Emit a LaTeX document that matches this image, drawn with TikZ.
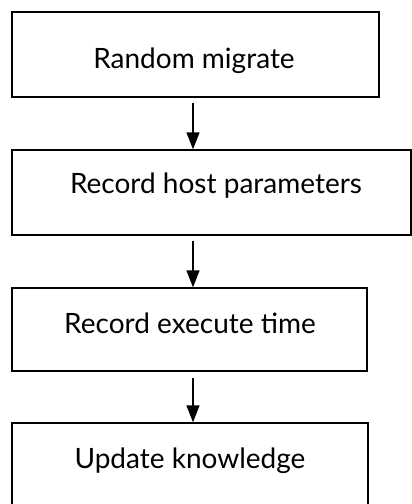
\documentclass[tikz,border=0pt]{standalone}
\usepackage{fontspec}
\setmainfont{Lato}
\usetikzlibrary{arrows.meta}
\begin{document}
\begin{tikzpicture}[x=1pt,y=-1pt,
  stepbox/.style={draw=black,line width=1.4pt,rectangle,inner sep=0pt},
  label/.style={anchor=base,inner sep=0pt,font=\fontsize{28}{33}\selectfont},
  flow/.style={line width=1.4pt,-{Triangle[width=13pt,length=17pt]}}]
\useasboundingbox (0,0) rectangle (412,504);
\clip (0,0) rectangle (412,504);
\fill[white] (0,0) rectangle (412,504);

% boxes of the flow
\node[stepbox,minimum width=367pt,minimum height=85pt] (box1) at (195.5,54.5) {};
\node[stepbox,minimum width=399pt,minimum height=85pt] (box2) at (211.5,192.5) {};
\node[stepbox,minimum width=355pt,minimum height=83pt] (box3) at (189.5,329.5) {};
\node[stepbox,minimum width=356pt,minimum height=90pt] (box4) at (190,468) {};

% step texts
\node[label] (t1) at (194,68) {Random migrate};
\node[label] (t2) at (216,193) {Record host parameters};
\node[label] (t3) at (190,333) {Record execute time};
\node[label] (t4) at (190,468) {Update knowledge};

% connectors
\coordinate (ax) at (193,0);
\draw[flow] ([yshift=-5pt]box1.south -| ax) -- (box2.north -| ax);
\draw[flow] ([yshift=-5pt]box2.south -| ax) -- (box3.north -| ax);
\draw[flow] ([yshift=-6pt]box3.south -| ax) -- (box4.north -| ax);
\end{tikzpicture}
\end{document}
